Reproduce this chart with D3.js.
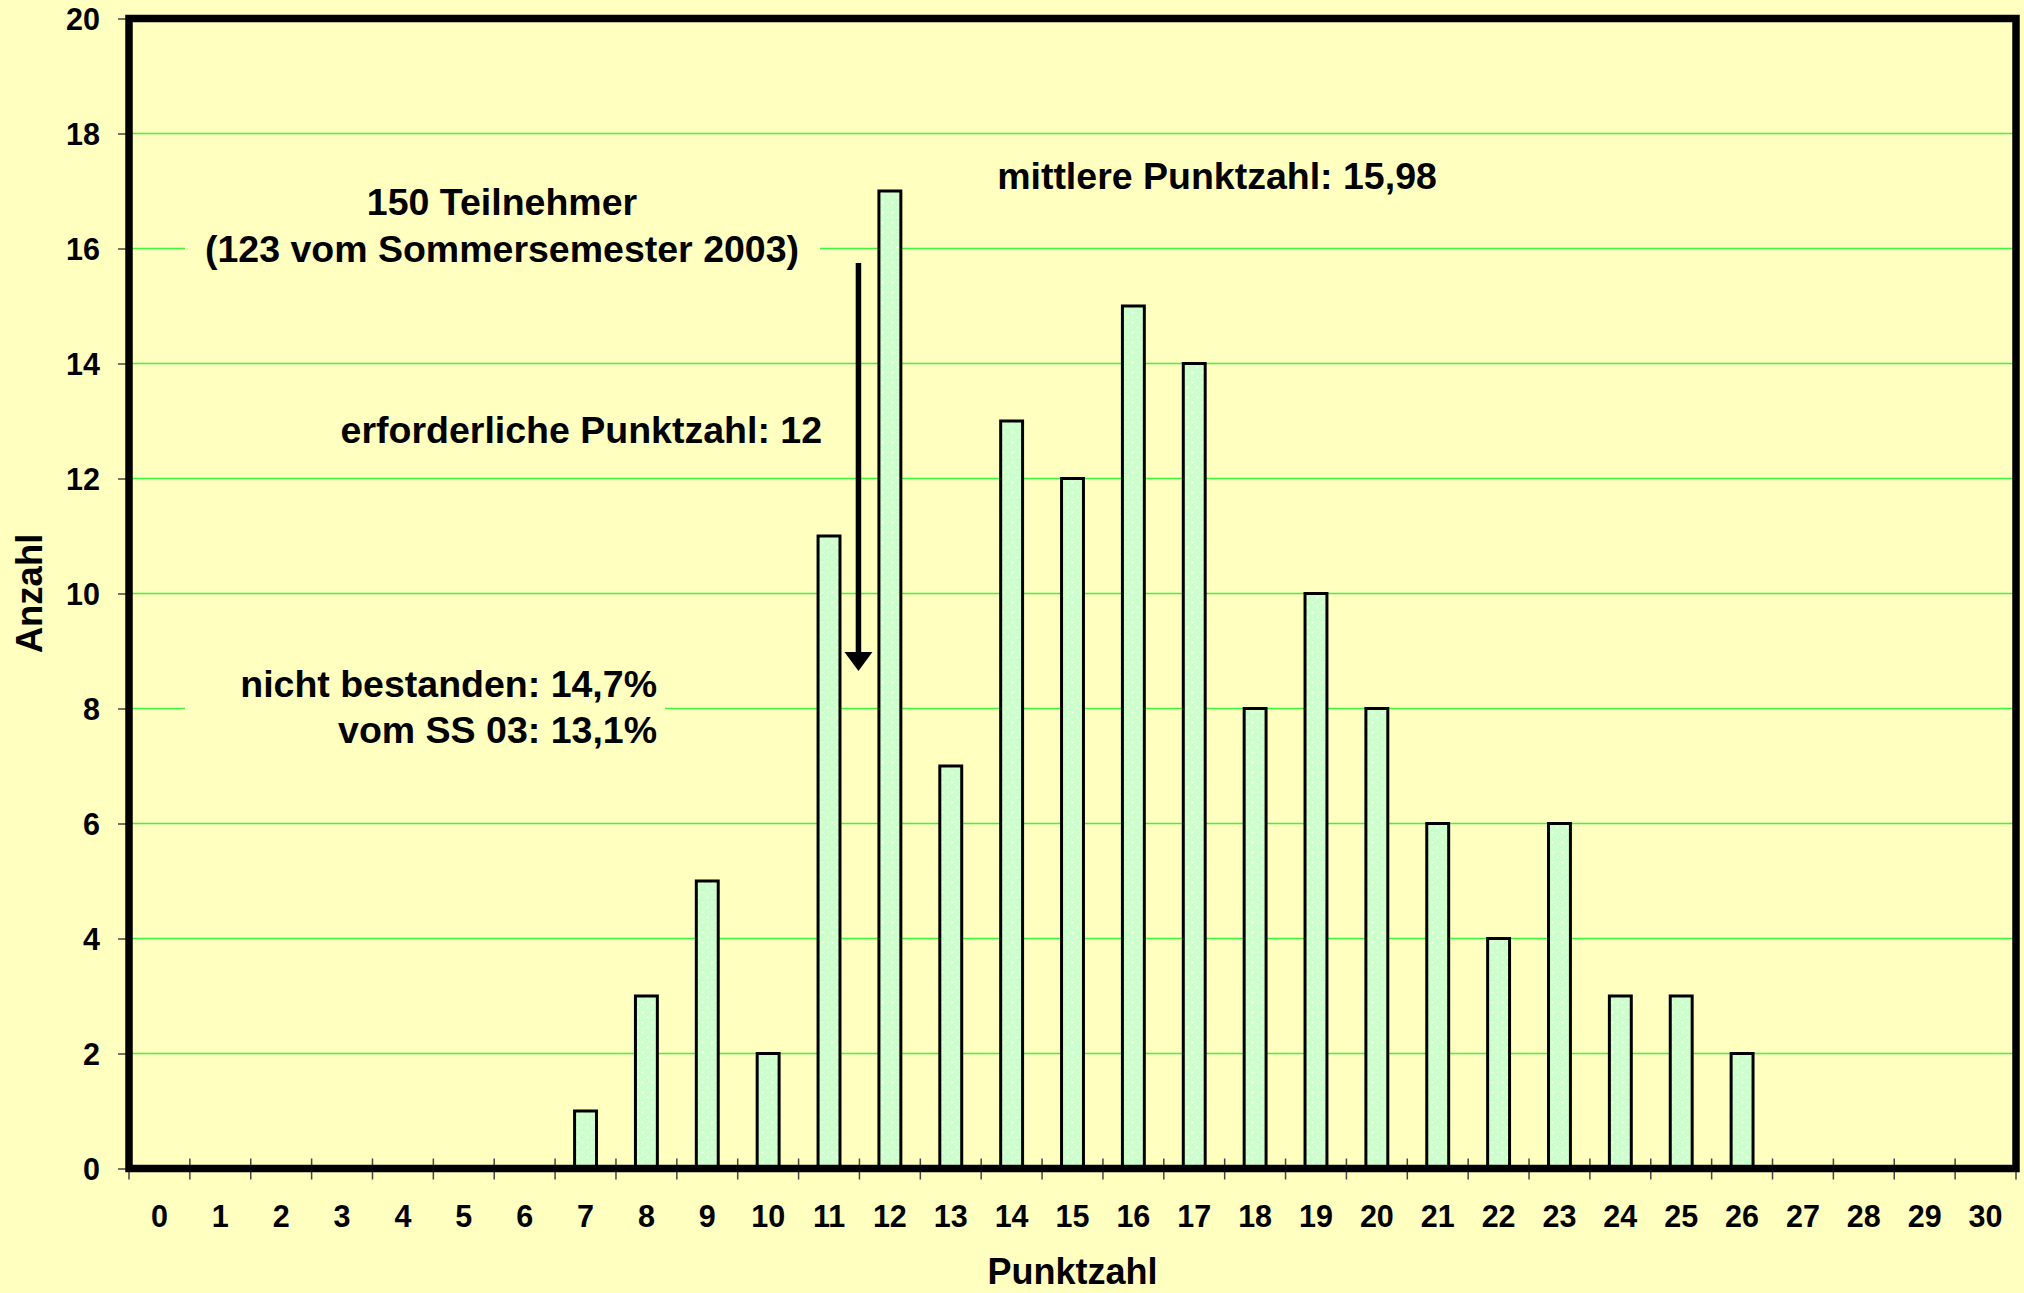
<!DOCTYPE html>
<html>
<head>
<meta charset="utf-8">
<script src="https://cdn.jsdelivr.net/npm/d3@7"></script>
<style>
  html, body { margin: 0; padding: 0; background: #ffffc0; }
  svg { display: block; }
</style>
</head>
<body>
<svg id="chart" width="2024" height="1293"></svg>
<script>
(function() {

  // Punktzahl 0..30 and how many participants got each
  const points = d3.range(0, 31);
  const counts = [0, 0, 0, 0, 0, 0, 0, 1, 3, 5, 2, 11, 17, 7, 13, 12, 15, 14, 8, 10, 8, 6, 4, 6, 3, 3, 2, 0, 0, 0, 0];
  const yTicks = [0, 2, 4, 6, 8, 10, 12, 14, 16, 18, 20];

  const xTitle = "Punktzahl";
  const yTitle = "Anzahl";
  const participantsLines = ["150 Teilnehmer", "(123 vom Sommersemester 2003)"];
  const meanText = "mittlere Punktzahl: 15,98";
  const requiredText = "erforderliche Punktzahl: 12";
  const requiredScore = 12;
  const failedLines = ["nicht bestanden: 14,7%", "vom SS 03: 13,1%"];

  const BG = "#ffffc0";
  const GRID = "#3df53d";
  const BAR = "#ccffcc";
  const INK = "#000";
  const FONT = "'Liberation Sans', Arial, sans-serif";

  const plot = { left: 129, right: 2016, top: 18.5, bottom: 1168.5 };

  const svg = d3.select("#chart");

  const x = d3.scaleBand()
    .domain(points)
    .range([plot.left, plot.right])
    .padding(0);

  const y = d3.scaleLinear()
    .domain([0, 20])
    .range([plot.bottom, plot.top]);

  const barW = x.bandwidth() * 0.36;

  // dotted fill of the bars
  const pat = svg.append("defs").append("pattern")
    .attr("id", "dots")
    .attr("patternUnits", "userSpaceOnUse")
    .attr("width", 10).attr("height", 10);
  pat.append("rect").attr("width", 10).attr("height", 10).attr("fill", BAR);
  [[2.5, 2.5], [7.5, 7.5]].forEach(d => {
    pat.append("circle").attr("cx", d[0]).attr("cy", d[1]).attr("r", 1.1)
      .attr("fill", "#fff").attr("opacity", 0.85);
  });

  svg.append("rect").attr("width", 2024).attr("height", 1293).attr("fill", BG);

  // gridlines
  svg.append("g")
    .selectAll("line")
    .data(yTicks.filter(v => v > 0 && v < 20))
    .join("line")
    .attr("x1", plot.left).attr("x2", plot.right)
    .attr("y1", d => y(d)).attr("y2", d => y(d))
    .attr("stroke", GRID)
    .attr("stroke-width", 1.6);

  // text boxes hide the gridlines behind them
  svg.append("rect")
    .attr("x", 185).attr("y", 180).attr("width", 635).attr("height", 95)
    .attr("fill", BG);
  svg.append("rect")
    .attr("x", 185).attr("y", 660).attr("width", 480).attr("height", 95)
    .attr("fill", BG);

  // bars
  svg.append("g")
    .selectAll("rect")
    .data(points.filter(p => counts[p] > 0))
    .join("rect")
    .attr("x", d => x(d) + (x.bandwidth() - barW) / 2)
    .attr("y", d => y(counts[d]))
    .attr("width", barW)
    .attr("height", d => y(0) - y(counts[d]))
    .attr("fill", "url(#dots)")
    .attr("stroke", INK)
    .attr("stroke-width", 3);

  // y axis ticks + labels
  const yAxis = d3.axisLeft(y)
    .tickValues(yTicks)
    .tickSize(11)
    .tickPadding(18)
    .tickFormat(d3.format("d"));
  const gy = svg.append("g")
    .attr("transform", `translate(${plot.left},0)`)
    .call(yAxis);
  gy.select(".domain").remove();
  gy.selectAll(".tick line").attr("stroke", "#444").attr("stroke-width", 1.5);
  gy.selectAll(".tick text")
    .attr("font-family", FONT).attr("font-size", 30.5).attr("font-weight", "bold")
    .attr("fill", INK).attr("dy", "0.36em");

  // x ticks sit on band boundaries and cross the axis
  const edges = d3.range(0, points.length + 1);
  svg.append("g")
    .selectAll("line")
    .data(edges)
    .join("line")
    .attr("x1", d => plot.left + d * x.step())
    .attr("x2", d => plot.left + d * x.step())
    .attr("y1", plot.bottom - 10).attr("y2", plot.bottom + 11)
    .attr("stroke", "#444").attr("stroke-width", 1.5);

  svg.append("g")
    .selectAll("text")
    .data(points)
    .join("text")
    .attr("x", d => x(d) + x.bandwidth() / 2)
    .attr("y", 1227)
    .attr("text-anchor", "middle")
    .attr("font-family", FONT).attr("font-size", 30.5).attr("font-weight", "bold")
    .attr("fill", INK)
    .text(d => d);

  // plot frame
  svg.append("rect")
    .attr("x", plot.left).attr("y", plot.top)
    .attr("width", plot.right - plot.left)
    .attr("height", plot.bottom - plot.top)
    .attr("fill", "none")
    .attr("stroke", INK)
    .attr("stroke-width", 7.5);

  // axis titles
  svg.append("text")
    .attr("x", (plot.left + plot.right) / 2).attr("y", 1284)
    .attr("text-anchor", "middle")
    .attr("font-family", FONT).attr("font-size", 36).attr("font-weight", "bold")
    .text(xTitle);

  svg.append("text")
    .attr("transform", `translate(42,${(plot.top + plot.bottom) / 2}) rotate(-90)`)
    .attr("text-anchor", "middle")
    .attr("font-family", FONT).attr("font-size", 36.5).attr("font-weight", "bold")
    .text(yTitle);

  // annotations
  const note = (txt, xx, yy, anchor) => svg.append("text")
    .attr("x", xx).attr("y", yy)
    .attr("text-anchor", anchor)
    .attr("font-family", FONT).attr("font-size", 37.5).attr("font-weight", "bold")
    .attr("fill", INK)
    .text(txt);

  note(participantsLines[0], 502, 215, "middle");
  note(participantsLines[1], 502, 262, "middle");
  note(meanText, 1217, 189, "middle");
  note(requiredText, 822, 443, "end");
  note(failedLines[0], 657, 697, "end");
  note(failedLines[1], 657, 743, "end");

  // arrow pointing at the pass mark (between 11 and 12)
  const ax = plot.left + requiredScore * x.step() - 1;
  svg.append("line")
    .attr("x1", ax).attr("x2", ax)
    .attr("y1", 263).attr("y2", 656)
    .attr("stroke", INK).attr("stroke-width", 5.5);
  svg.append("path")
    .attr("d", `M${ax - 14},652 L${ax + 14},652 L${ax},671 Z`)
    .attr("fill", INK);

})();
</script>
</body>
</html>
